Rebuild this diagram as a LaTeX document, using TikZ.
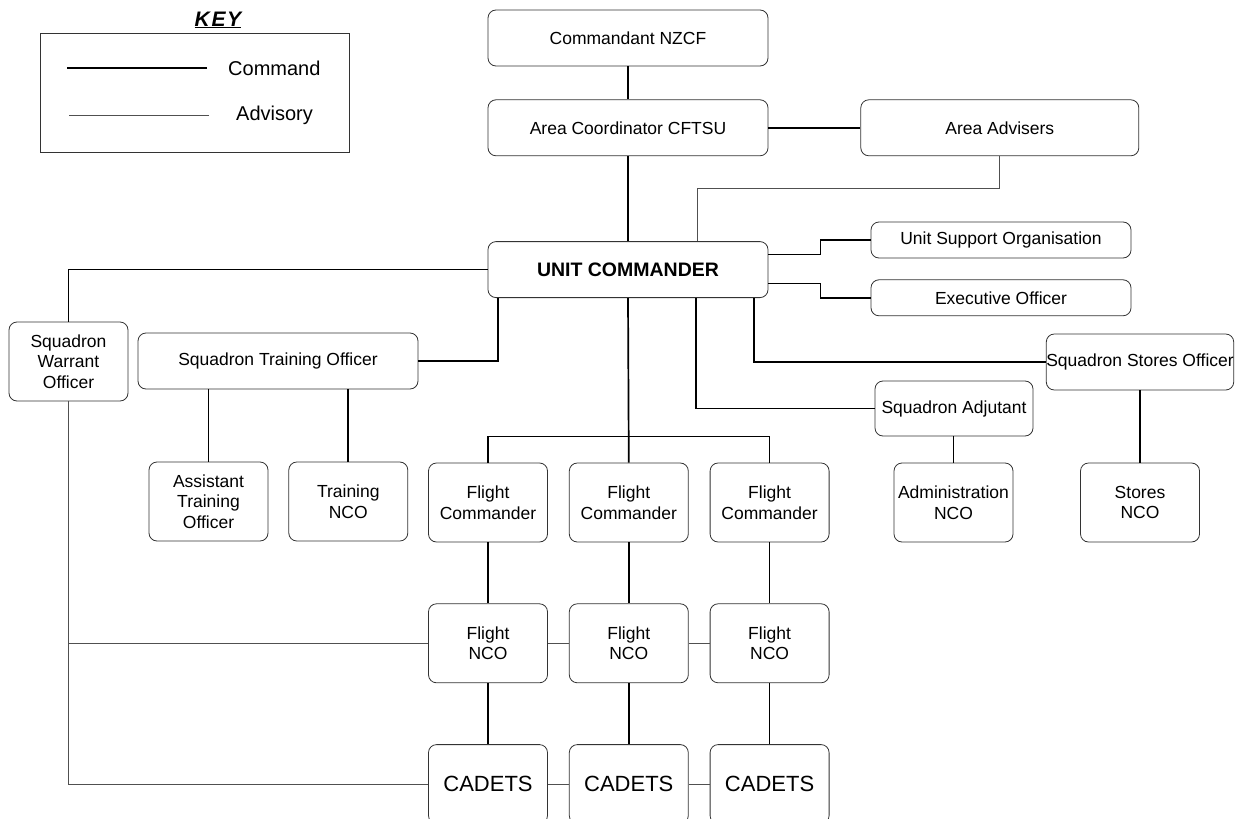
\documentclass[tikz,border=0pt]{standalone}
\usepackage{fontspec}
\setmainfont{Liberation Sans}
\usetikzlibrary{positioning}
\definecolor{edge}{HTML}{333333}
\definecolor{thin}{HTML}{505050}

\begin{document}
\begin{tikzpicture}[x=1pt,y=-1pt,node distance=20pt,
 box/.style={draw=edge,line width=0.8pt,rounded corners=8pt,align=center,
 inner xsep=1pt,font=\fontsize{17.5}{20.5}\selectfont},
 bigbox/.style={box,minimum width=280pt,minimum height=56pt},
 widebox/.style={box,minimum width=260pt,minimum height=36pt},
 smallbox/.style={box,minimum width=119pt,minimum height=79pt},
 keytext/.style={anchor=west,inner sep=0pt,font=\fontsize{20}{24}\selectfont},
 cmdline/.style={line width=1.7pt},
 advline/.style={line width=0.9pt,draw=thin}]
\useasboundingbox (0,0) rectangle (1243,819);
% key
\node[font=\fontsize{21}{24}\selectfont\bfseries\itshape\addfontfeatures{LetterSpace=8}] (keyt) at (218,20) {\underline{KEY}};
\node[draw=edge,line width=0.8pt,minimum width=309pt,minimum height=119pt] (keybox) at (194.5,92.5) {};
\node[keytext] (kcmd) at (228,68) {Command};
\node[keytext] (kadv) at (236,115) {Advisory};
\draw[cmdline] ([xshift=-21pt]kcmd.west) -- ++(-140,0);
\draw[advline] ([xshift=-27pt]kadv.west) -- ++(-140,0);
% upper chain
\node[bigbox] (cmd) at (628,38) {Commandant NZCF};
\node[bigbox,below=33pt of cmd] (acc) {Area Coordinator CFTSU};
\node[bigbox,right=92pt of acc,minimum width=278pt] (adv) {Area Advisers};
\node[bigbox,below=85pt of acc,font=\fontsize{19.5}{23}\selectfont\bfseries] (uc) {UNIT COMMANDER};
\node[widebox] (uso) at (1001,240) {Unit Support Organisation};
\node[widebox,below=21pt of uso] (xo) {Executive Officer};
% left branch
\node[smallbox] (swo) at (68.5,361.5) {Squadron\\Warrant\\Officer};
\node[bigbox] (sto) at (278,361) {Squadron Training Officer};
\node[smallbox] (ato) at (208.5,501.5) {Assistant\\Training\\Officer};
\node[smallbox,right=20pt of ato] (tnco) {Training\\NCO};
% flights
\node[smallbox] (fc1) at (488,502.5) {Flight\\Commander};
\node[smallbox,right=21pt of fc1] (fc2) {Flight\\Commander};
\node[smallbox,right=21pt of fc2] (fc3) {Flight\\Commander};
\foreach \i in {1,2,3} {
  \node[smallbox,below=61pt of fc\i] (fnco\i) {Flight\\NCO};
  \node[smallbox,below=61pt of fnco\i,font=\fontsize{22}{26}\selectfont] (cad\i) {CADETS};
}
% right branch
\node[box,minimum width=186pt,minimum height=56pt,inner xsep=0pt] (sso) at (1140,362) {Squadron Stores Officer};
\node[box,minimum width=158pt,minimum height=55pt] (adj) at (954,408.5) {Squadron Adjutant};
\node[smallbox] (adm) at (953.5,502.5) {Administration\\NCO};
\node[smallbox] (snco) at (1140,502.5) {Stores\\NCO};

% command lines
\draw[cmdline] (cmd) -- (acc);
\draw[cmdline] (acc) -- (adv);
\draw[cmdline] (acc) -- (uc);
\draw[cmdline] ([yshift=15pt]uc.east) -- ++(52,0) |- (uso.west);
\draw[cmdline] ([yshift=-14pt]uc.east) -- ++(52,0) |- (xo.west);
\draw[cmdline] (uc.west) -| (swo.north);
\draw[cmdline] ([xshift=-130pt]uc.south) |- (sto.east);
\draw[cmdline] (ato.north) -- (ato.north |- sto.south);
\draw[cmdline] (tnco.north) -- (tnco.north |- sto.south);
\draw[cmdline] (uc.south) -- (fc2.north);
\draw[cmdline] (fc1.north) -- ++(0,-26) -| (fc3.north);
\draw[cmdline] ([xshift=68pt]uc.south) |- (adj.west);
\draw[cmdline] ([xshift=126pt]uc.south) |- (sso.west);
\draw[cmdline] (adm.north) -- (adm.north |- adj.south);
\draw[cmdline] (snco.north) -- (snco.north |- sso.south);
\foreach \i in {1,2,3} {
  \draw[cmdline] (fc\i) -- (fnco\i);
  \draw[cmdline] (fnco\i) -- (cad\i);
}
% advisory lines
\draw[advline] (adv.south) -- ++(0,32) -| ([xshift=69pt]uc.north);
\draw[advline] (swo.south) |- (cad1.west);
\draw[advline] (swo.south |- fnco1.west) -- (fnco1.west);
\draw[advline] (fnco1) -- (fnco2) -- (fnco3);
\draw[advline] (cad1) -- (cad2) -- (cad3);
\end{tikzpicture}
\end{document}
